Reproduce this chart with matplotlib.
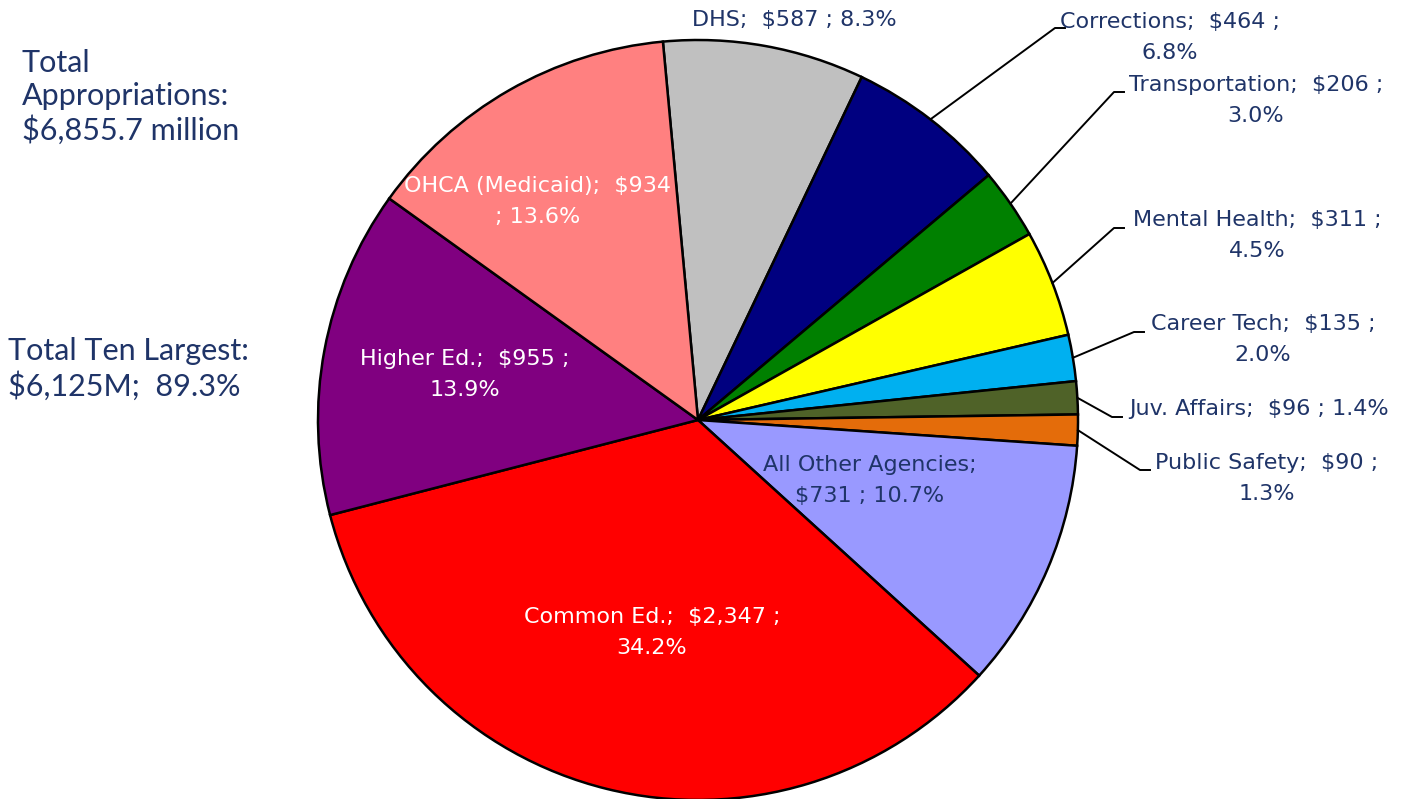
import numpy as np
import matplotlib.pyplot as plt

# agencies, clockwise from the top
names = ['DHS', 'Corrections', 'Transportation', 'Mental Health', 'Career Tech',
         'Juv. Affairs', 'Public Safety', 'All Other Agencies', 'Common Ed.',
         'Higher Ed.', 'OHCA (Medicaid)']
values = [587, 464, 206, 311, 135, 96, 90, 731, 2347, 955, 934]
pcts = ['8.3%', '6.8%', '3.0%', '4.5%', '2.0%', '1.4%', '1.3%', '10.7%',
        '34.2%', '13.9%', '13.6%']
colors = ['#C0C0C0', '#000080', '#008000', '#FFFF00', '#00B0F0', '#4F6228',
          '#E46C0A', '#9999FF', '#FF0000', '#800080', '#FF8080']

navy = '#1F3468'
plt.rcParams['font.family'] = ['DejaVu Sans']

W, H = 1409, 799
fig = plt.figure(figsize=(W / 100, H / 100), dpi=100)
ax = fig.add_axes([0, 0, 1, 1])

cx, cy, r = 698, H - 420, 380
wedges, _ = ax.pie(values, colors=colors, startangle=95.3, counterclock=False,
                   center=(cx, cy), radius=r,
                   wedgeprops=dict(edgecolor='black', linewidth=1.8))
ax.set_xlim(0, W)
ax.set_ylim(0, H)
ax.set_aspect('equal')
ax.axis('off')

def lab(i):
    return f'{names[i]};  ${values[i]:,} ;'

# (text lines, text x, text y (image px), color, leader elbow)
specs = {
    0: (['DHS;  $587 ; 8.3%'], 794, 20, navy, None),
    1: ([lab(1), pcts[1]], 1170, 22, navy, (1055, 28)),
    2: ([lab(2), pcts[2]], 1256, 85, navy, (1114, 92)),
    3: ([lab(3), pcts[3]], 1257, 220, navy, (1114, 228)),
    4: ([lab(4), pcts[4]], 1263, 324, navy, (1134, 332)),
    5: ([lab(5) + ' ' + pcts[5]], 1259, 409, navy, (1112, 417)),
    6: ([lab(6), pcts[6]], 1267, 463, navy, (1140, 470)),
    7: (['All Other Agencies;', '$731 ; 10.7%'], 870, 465, navy, None),
    8: ([lab(8), pcts[8]], 652, 617, 'white', None),
    9: ([lab(9), pcts[9]], 465, 359, 'white', None),
    10: (['OHCA (Medicaid);  $934', '; 13.6%'], 538, 186, 'white', None),
}

for i, (lines, tx, ty, col, elbow) in specs.items():
    for k, line in enumerate(lines):
        ax.text(tx, H - ty - k * 31, line, color=col, fontsize=16,
                ha='center', va='center')
    if elbow is not None:
        w = wedges[i]
        th = np.radians((w.theta1 + w.theta2) / 2)
        x0, y0 = cx + r * np.cos(th), cy + r * np.sin(th)
        ex, ey = elbow
        ax.plot([x0, ex, ex + 10], [y0, H - ey, H - ey], color='black', lw=1.4)

ax.text(22, H - 97, 'Total\nAppropriations:\n$6,855.7 million', color=navy,
        fontsize=22, ha='left', va='center', linespacing=1.22,
        family=['Lato', 'DejaVu Sans'])
ax.text(8, H - 369, 'Total Ten Largest:\n$6,125M;  89.3%', color=navy,
        fontsize=22, ha='left', va='center', linespacing=1.22,
        family=['Lato', 'DejaVu Sans'])

fig.savefig('out.png', dpi=100)
